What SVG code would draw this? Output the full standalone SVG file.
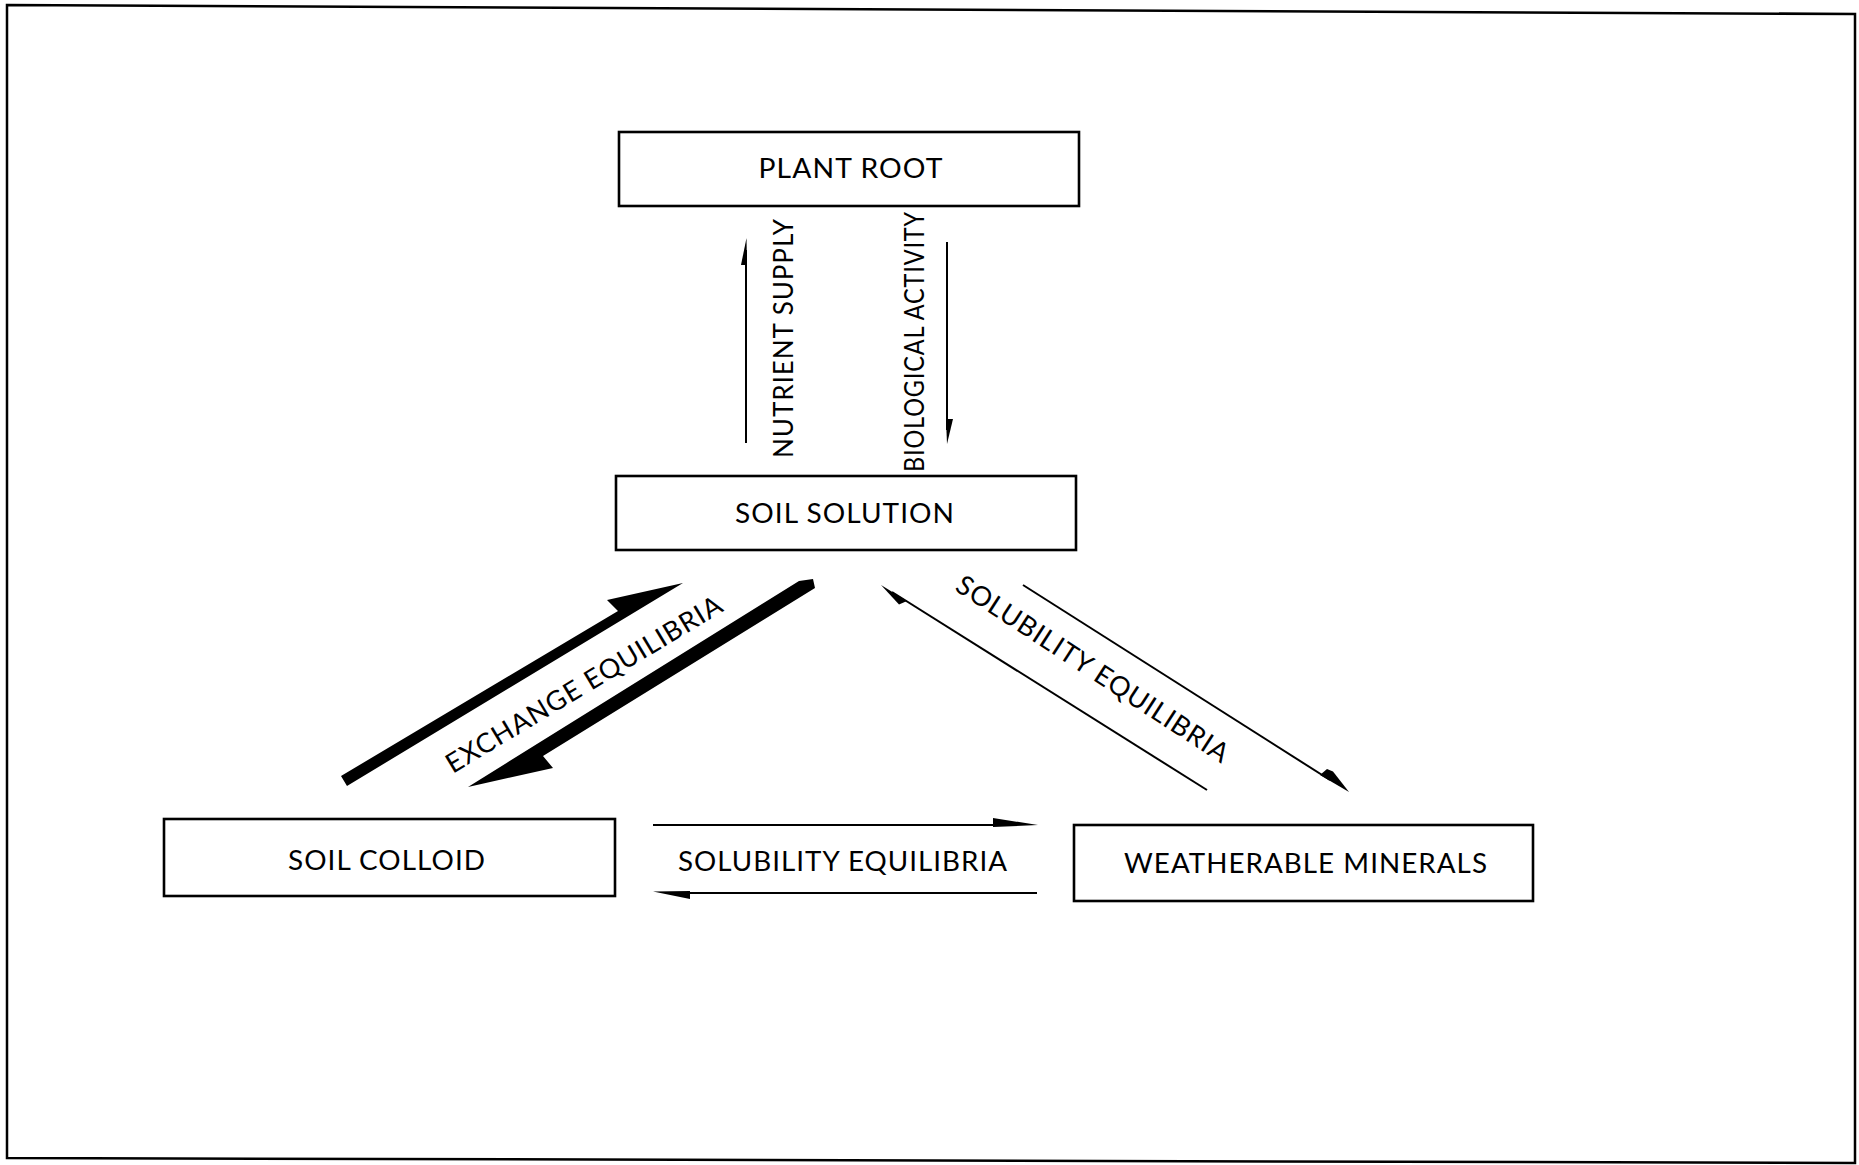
<svg xmlns="http://www.w3.org/2000/svg" width="1859" height="1165" viewBox="0 0 1859 1165">
<style>
.box{fill:#fff;stroke:#000;stroke-width:2.6}
.lbl{font-family:"Lato","Open Sans","Liberation Sans",sans-serif;font-size:27px;fill:#000;letter-spacing:1px}
.ln{stroke:#000;stroke-width:2;fill:none}
.hd{fill:#000;stroke:none}
</style>
<rect width="1859" height="1165" fill="#fff"/>
<path d="M7,5 L1855,14 L1855,1163 L7,1158 Z" fill="none" stroke="#000" stroke-width="2.5"/>
<g id="connectors">
  <line class="ln" x1="746" y1="443" x2="746" y2="250"/>
  <polygon class="hd" points="746.5,238 741,265 747,265"/>
  <line class="ln" x1="947" y1="242" x2="947" y2="430"/>
  <polygon class="hd" points="946,419 953,419 947,444"/>
  <polygon class="hd" points="347,786 683,583 607,600 618,611 341,776"/>
  <polygon class="hd" points="799,581 813,579 815,588 543,756 553,768 468,787"/>
  <line class="ln" x1="1207" y1="790" x2="892" y2="592"/>
  <polygon class="hd" points="881,585 907,601 899,604.5"/>
  <line class="ln" x1="1023" y1="585" x2="1330" y2="780"/>
  <polygon class="hd" points="1320,775 1327,769 1333,771.5 1349,792"/>
  <line class="ln" x1="653" y1="825" x2="1000" y2="825"/>
  <polygon class="hd" points="993,818 1038,825 993,827"/>
  <line class="ln" x1="685" y1="893" x2="1037" y2="893"/>
  <polygon class="hd" points="653,891.5 690,891 690,899"/>
  <text class="lbl" transform="translate(793,458) rotate(-90)" textLength="240" lengthAdjust="spacingAndGlyphs">NUTRIENT SUPPLY</text>
  <text class="lbl" transform="translate(924,472) rotate(-90)" textLength="261" lengthAdjust="spacingAndGlyphs">BIOLOGICAL ACTIVITY</text>
  <text class="lbl" text-anchor="middle" transform="translate(589,692) rotate(-31)" textLength="318" lengthAdjust="spacingAndGlyphs">EXCHANGE EQUILIBRIA</text>
  <text class="lbl" text-anchor="middle" transform="translate(1088,677) rotate(33)" textLength="320" lengthAdjust="spacingAndGlyphs">SOLUBILITY EQUILIBRIA</text>
  <text class="lbl" x="843" y="871" text-anchor="middle" textLength="330" lengthAdjust="spacingAndGlyphs">SOLUBILITY EQUILIBRIA</text>
</g>
<g id="plant-root">
  <rect class="box" x="619" y="132" width="460" height="74"/>
  <text class="lbl" x="851" y="178" text-anchor="middle" textLength="185" lengthAdjust="spacingAndGlyphs" style="font-size:26px">PLANT ROOT</text>
</g>
<g id="soil-solution">
  <rect class="box" x="616" y="476" width="460" height="74"/>
  <text class="lbl" x="845" y="523" text-anchor="middle" textLength="220" lengthAdjust="spacingAndGlyphs">SOIL SOLUTION</text>
</g>
<g id="soil-colloid">
  <rect class="box" x="164" y="819" width="451" height="77"/>
  <text class="lbl" x="387" y="870" text-anchor="middle" textLength="198" lengthAdjust="spacingAndGlyphs">SOIL COLLOID</text>
</g>
<g id="weatherable-minerals">
  <rect class="box" x="1074" y="825" width="459" height="76"/>
  <text class="lbl" x="1306" y="873" text-anchor="middle" textLength="364" lengthAdjust="spacingAndGlyphs">WEATHERABLE MINERALS</text>
</g>
</svg>
